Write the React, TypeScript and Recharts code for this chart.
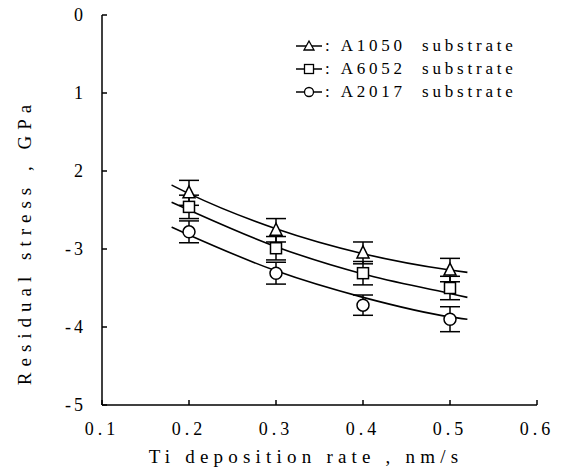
import React from 'react';
import { ComposedChart, Line, Scatter, XAxis, YAxis, ErrorBar, Label, Legend } from 'recharts';

// Measured points (Ti deposition rate, nm/s)
const rates = [0.2, 0.3, 0.4, 0.5];
const a1050Stress = [-2.28, -2.76, -3.05, -3.27];
const a1050Err = [0.16, 0.15, 0.14, 0.15];
const a6052Stress = [-2.46, -2.99, -3.31, -3.5];
const a6052Err = [0.15, 0.15, 0.15, 0.15];
const a2017Stress = [-2.78, -3.31, -3.72, -3.9];
const a2017Err = [0.14, 0.14, 0.13, 0.16];

// Fitted curves
const fitRates = [0.18, 0.2, 0.3, 0.4, 0.5, 0.52];
const a1050Fit = [-2.18, -2.29, -2.74, -3.06, -3.27, -3.3];
const a6052Fit = [-2.4, -2.5, -2.97, -3.32, -3.57, -3.62];
const a2017Fit = [-2.72, -2.82, -3.28, -3.62, -3.87, -3.9];

const xTicks = [0.1, 0.2, 0.3, 0.4, 0.5, 0.6];
const yTicks = [0, -1, -2, -3, -4, -5];
const yTickLabels = ['0', '1', '2', '-3', '-4', '-5'];

const seriesNames = [': A1050  substrate', ': A6052  substrate', ': A2017  substrate'];

const FONT = '"Liberation Serif", "DejaVu Serif", serif';

const pts = (ys: number[], errs: number[]) => rates.map((x, i) => ({ x, y: ys[i], err: errs[i] }));
const fit = (ys: number[]) => fitRates.map((x, i) => ({ x, y: ys[i] }));

const Tri = (p: any) => {
  const { cx, cy } = p;
  return <polygon points={`${cx},${cy - 7} ${cx - 6},${cy + 5} ${cx + 6},${cy + 5}`} fill="#fff" stroke="#000" strokeWidth={1.5} />;
};
const Sq = (p: any) => {
  const { cx, cy } = p;
  return <rect x={cx - 5.5} y={cy - 5.5} width={11} height={11} fill="#fff" stroke="#000" strokeWidth={1.5} />;
};
const Circ = (p: any) => {
  const { cx, cy } = p;
  return <circle cx={cx} cy={cy} r={6} fill="#fff" stroke="#000" strokeWidth={1.5} />;
};

const LegendContent = () => {
  const icons = [
    <polygon key="t" points="13,2 8,11 18,11" fill="#fff" stroke="#000" strokeWidth={1.3} />,
    <rect key="s" x={8.5} y={2.5} width={9} height={9} fill="#fff" stroke="#000" strokeWidth={1.3} />,
    <circle key="c" cx={13} cy={7} r={4.5} fill="#fff" stroke="#000" strokeWidth={1.3} />,
  ];
  return (
    <div style={{ fontFamily: FONT, fontSize: 17, color: '#000' }}>
      {seriesNames.map((n, i) => (
        <div key={n} style={{ display: 'flex', alignItems: 'center', height: 23 }}>
          <svg width={27} height={14} style={{ marginRight: 2 }}>
            <line x1={0} y1={7} x2={26} y2={7} stroke="#000" strokeWidth={1.5} />
            {icons[i]}
          </svg>
          <span style={{ whiteSpace: 'pre', letterSpacing: 3.8 }}>{n}</span>
        </div>
      ))}
    </div>
  );
};

export default function App() {
  return (
    <div style={{ position: 'absolute', left: 0, top: 0, background: '#fff' }}>
      <ComposedChart width={567} height={472} margin={{ top: 15, right: 30, bottom: 0, left: 0 }}>
        <XAxis
          type="number"
          dataKey="x"
          domain={[0.1, 0.6]}
          ticks={xTicks}
          allowDataOverflow
          height={67}
          tickFormatter={(v: number) => v.toFixed(1)}
          axisLine={{ stroke: '#000', strokeWidth: 1.5 }}
          tickLine={{ stroke: '#000', strokeWidth: 1.5 }}
          tickSize={-5}
          tickMargin={22}
          tick={{ fill: '#000', fontSize: 18, fontFamily: FONT, letterSpacing: 4 }}
        >
          <Label
            content={() => (
              <text x={306} y={463} textAnchor="middle" fontFamily={FONT} fontSize={19} letterSpacing={5.2} fill="#000">
                Ti deposition rate , nm/s
              </text>
            )}
          />
        </XAxis>
        <YAxis
          type="number"
          domain={[-5, 0]}
          ticks={yTicks}
          allowDataOverflow
          width={102}
          tickFormatter={(v: number) => yTickLabels[yTicks.indexOf(v)]}
          axisLine={{ stroke: '#000', strokeWidth: 1.5 }}
          tickLine={{ stroke: '#000', strokeWidth: 1.5 }}
          tickSize={-5}
          tickMargin={21}
          tick={{ fill: '#000', fontSize: 18, fontFamily: FONT, letterSpacing: 3 }}
        >
          <Label
            content={() => (
              <text
                x={27}
                y={242}
                transform="rotate(-90 27 242)"
                textAnchor="middle"
                dominantBaseline="middle"
                fontFamily={FONT}
                fontSize={19}
                letterSpacing={6}
                fill="#000"
              >
                Residual stress , GPa
              </text>
            )}
          />
        </YAxis>
        <Legend
          verticalAlign="middle"
          align="center"
          content={<LegendContent />}
          wrapperStyle={{ position: 'absolute', left: 296, top: 34, width: 260 }}
        />
        <Line data={fit(a1050Fit)} dataKey="y" type="monotone" stroke="#000" strokeWidth={1.6} dot={false} isAnimationActive={false} legendType="none" />
        <Line data={fit(a6052Fit)} dataKey="y" type="monotone" stroke="#000" strokeWidth={1.6} dot={false} isAnimationActive={false} legendType="none" />
        <Line data={fit(a2017Fit)} dataKey="y" type="monotone" stroke="#000" strokeWidth={1.6} dot={false} isAnimationActive={false} legendType="none" />
        <Scatter data={pts(a1050Stress, a1050Err)} dataKey="y" shape={Tri} isAnimationActive={false}>
          <ErrorBar dataKey="err" direction="y" width={10} stroke="#000" strokeWidth={1.5} />
        </Scatter>
        <Scatter data={pts(a6052Stress, a6052Err)} dataKey="y" shape={Sq} isAnimationActive={false}>
          <ErrorBar dataKey="err" direction="y" width={10} stroke="#000" strokeWidth={1.5} />
        </Scatter>
        <Scatter data={pts(a2017Stress, a2017Err)} dataKey="y" shape={Circ} isAnimationActive={false}>
          <ErrorBar dataKey="err" direction="y" width={10} stroke="#000" strokeWidth={1.5} />
        </Scatter>
      </ComposedChart>
    </div>
  );
}
